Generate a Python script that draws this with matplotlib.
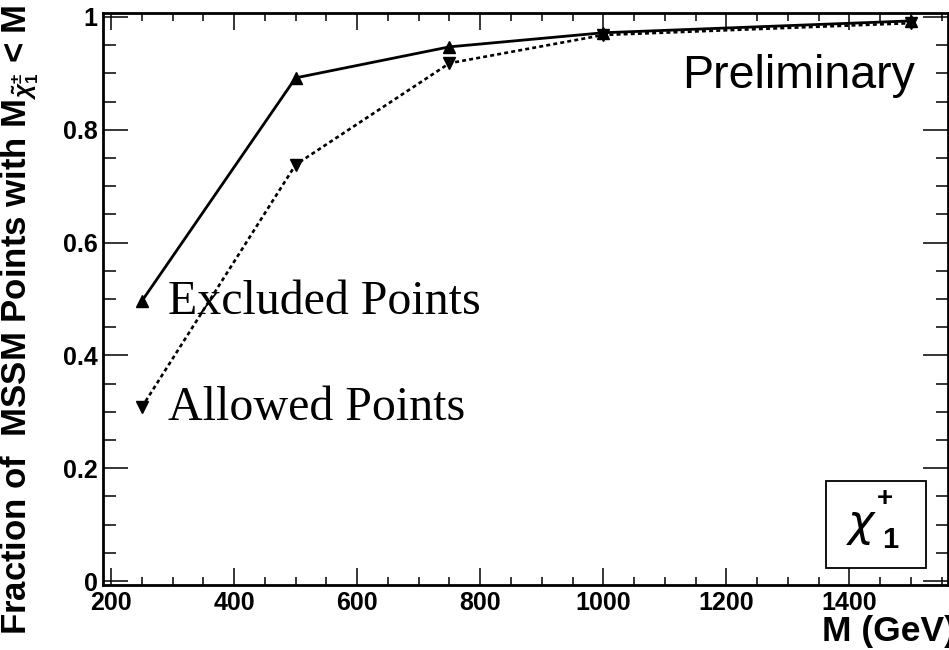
import numpy as np
import matplotlib
matplotlib.use("Agg")
import matplotlib.pyplot as plt
from matplotlib.ticker import MultipleLocator
from matplotlib.patches import Rectangle

# Fraction of MSSM points with chargino mass below M
mass = [250, 500, 750, 1000, 1500]
frac_excluded = [0.496, 0.892, 0.947, 0.972, 0.993]
frac_allowed = [0.308, 0.738, 0.918, 0.968, 0.989]

x_ticks = [200, 400, 600, 800, 1000, 1200, 1400]
y_ticks = [0, 0.2, 0.4, 0.6, 0.8, 1]
y_tick_labels = ["0", "0.2", "0.4", "0.6", "0.8", "1"]

plt.rcParams['font.family'] = ['Liberation Sans', 'DejaVu Sans']
plt.rcParams['mathtext.fontset'] = 'custom'
plt.rcParams['mathtext.rm'] = 'Liberation Sans:bold'
plt.rcParams['mathtext.it'] = 'Liberation Sans:bold:italic'
plt.rcParams['mathtext.bf'] = 'Liberation Sans:bold'

fig = plt.figure(figsize=(9.49, 6.50), dpi=100)
ax = fig.add_axes([0.1085, 0.10, 0.8904, 0.88])

ax.plot(mass, frac_excluded, color='black', linewidth=2.0, marker='^',
        markersize=9, markerfacecolor='black', markeredgecolor='black')
ax.plot(mass, frac_allowed, color='black', linewidth=1.9, linestyle=(0, (1.5, 1.2)),
        marker='v', markersize=9, markerfacecolor='black', markeredgecolor='black')

ax.set_xlim(187, 1560)
ax.set_ylim(-0.007, 1.007)

ax.set_xticks(x_ticks)
ax.set_xticklabels([str(v) for v in x_ticks])
ax.set_yticks(y_ticks)
ax.set_yticklabels(y_tick_labels)
ax.xaxis.set_minor_locator(MultipleLocator(50))
ax.yaxis.set_minor_locator(MultipleLocator(0.05))

for lab in ax.get_xticklabels() + ax.get_yticklabels():
    lab.set_fontweight('bold')
    lab.set_fontsize(18)

ax.tick_params(axis='x', which='major', direction='in', length=12.2, width=1.1,
               top=True, bottom=True, pad=4)
ax.tick_params(axis='x', which='minor', direction='in', length=6.1, width=1.1,
               top=True, bottom=True)
ax.tick_params(axis='y', which='major', direction='in', length=18, width=1.1,
               left=True, right=True, pad=4)
ax.tick_params(axis='y', which='minor', direction='in', length=9, width=1.1,
               left=True, right=True)
for sp in ax.spines.values():
    sp.set_linewidth(2.0)

# annotations
ax.text(292, 0.495, "Excluded Points", family=['Liberation Serif'], fontsize=34.5,
        ha='left', va='center')
ax.text(292, 0.307, "Allowed Points", family=['Liberation Serif'], fontsize=34.5,
        ha='left', va='center')
ax.text(0.961, 0.89, "Preliminary", transform=ax.transAxes, fontsize=33.5,
        ha='right', va='center')

# chargino label box
ax.add_patch(Rectangle((0.8556, 0.0297), 0.1184, 0.1523, transform=ax.transAxes,
                       fill=True, facecolor='white', edgecolor='black',
                       linewidth=1.3, zorder=5))
ax.text(0.898, 0.103, r'$\chi$', transform=ax.transAxes, math_fontfamily='dejavusans',
        fontsize=32, ha='center', va='center', zorder=6)
ax.text(0.925, 0.150, "+", transform=ax.transAxes, fontsize=20, fontweight='bold',
        ha='center', va='center', zorder=6)
ax.text(0.932, 0.078, "1", transform=ax.transAxes, fontsize=21, fontweight='bold',
        ha='center', va='center', zorder=6)

fig.text(20 / 949, 1 - 4 / 650,
         r'Fraction of  MSSM Points with M$_{\tilde{\chi}^{\pm}_{1}}$ < M',
         rotation=90, ha='center', va='top', fontsize=25, fontweight='bold')
fig.text(956 / 949, 18 / 650, 'M (GeV)', ha='right', va='center',
         fontsize=25.5, fontweight='bold')

fig.savefig('out.png', dpi=100)
